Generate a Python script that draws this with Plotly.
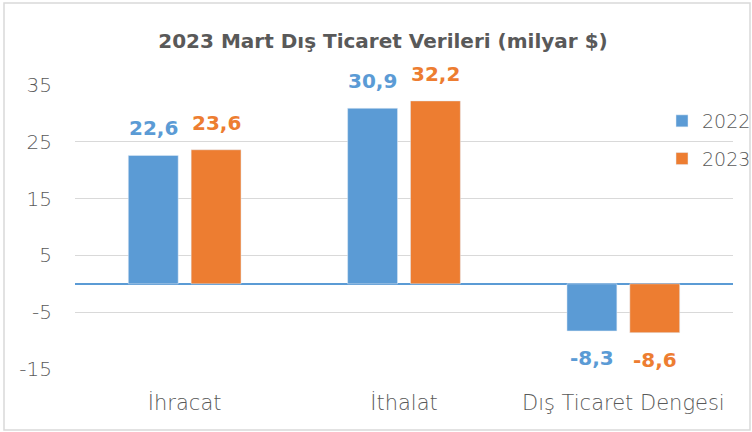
import plotly.graph_objects as go

categories = ["İhracat", "İthalat", "Dış Ticaret Dengesi"]
values_2022 = [22.6, 30.9, -8.3]
values_2023 = [23.6, 32.2, -8.6]
series_names = ["2022", "2023"]
tick_vals = [35, 25, 15, 5, -5, -15]
tick_text = ["35", "25", "15", "5", "-5", "-15"]

blue = "#5B9BD5"
orange = "#ED7D31"
gray = "#595959"
thin = "DejaVu Sans"

def fmt(v):
    return f"{v:.1f}".replace(".", ",")

fig = go.Figure()
annotations = []
for name, vals, col, grp, dx in [(series_names[0], values_2022, blue, "a", -31.5),
                                 (series_names[1], values_2023, orange, "b", 31.5)]:
    fig.add_trace(go.Bar(
        x=categories, y=vals, name=name, marker_color=col,
        legendgroup=grp, hoverinfo="x+y",
    ))
    for c, v in zip(categories, vals):
        annotations.append(dict(
            x=c, y=v, xref="x", yref="y", text=f"<b>{fmt(v)}</b>", showarrow=False,
            xshift=dx, yshift=27 if v >= 0 else -27,
            font=dict(family="DejaVu Sans", size=20, color=col),
        ))

W, H = 752, 432
l, r, t, b = 75, 19, 85, 63
pw, ph = W - l - r, H - t - b

fig.update_layout(
    width=W, height=H, autosize=False,
    margin=dict(l=l, r=r, t=t, b=b, autoexpand=False),
    paper_bgcolor="white", plot_bgcolor="white",
    barmode="group", bargap=0.427, bargroupgap=0.206,
    title=dict(text="<b>2023 Mart Dış Ticaret Verileri (milyar $)</b>",
               x=(383) / W, xanchor="center", y=1 - 41 / H, yanchor="middle",
               font=dict(family="DejaVu Sans", size=20, color=gray)),
    font=dict(family=thin, color=gray),
    legend=dict(xref="container", yref="container",
                x=662 / W, y=1 - 102 / H, xanchor="left", yanchor="top",
                font=dict(family=thin, size=19, color=gray, weight=200),
                bgcolor="rgba(0,0,0,0)",
                tracegroupgap=10, itemwidth=30),
    showlegend=True,
    annotations=annotations,
    yaxis=dict(range=[-15, 35], tickvals=tick_vals, ticktext=tick_text, showgrid=True,
               gridcolor="#D9D9D9", gridwidth=1.3, zeroline=True,
               zerolinecolor=blue, zerolinewidth=2,
               tickfont=dict(family=thin, size=20, color=gray, weight=200),
               ticklabelstandoff=22, fixedrange=True),
    xaxis=dict(tickfont=dict(family=thin, size=21, color=gray, weight=200),
               ticklabelstandoff=19, showline=False),
    shapes=[dict(type="rect", xref="paper", yref="paper",
                 x0=(4 - l) / pw, x1=(W - 2 - l) / pw,
                 y0=-(b - 2) / ph, y1=1 + (t - 3) / ph,
                 line=dict(color="#D9D9D9", width=1.5))],
)

fig.write_html("out.html",
               config={"responsive": False, "displayModeBar": False},
               post_script="document.body.style.margin='0';document.body.style.overflow='hidden';")
